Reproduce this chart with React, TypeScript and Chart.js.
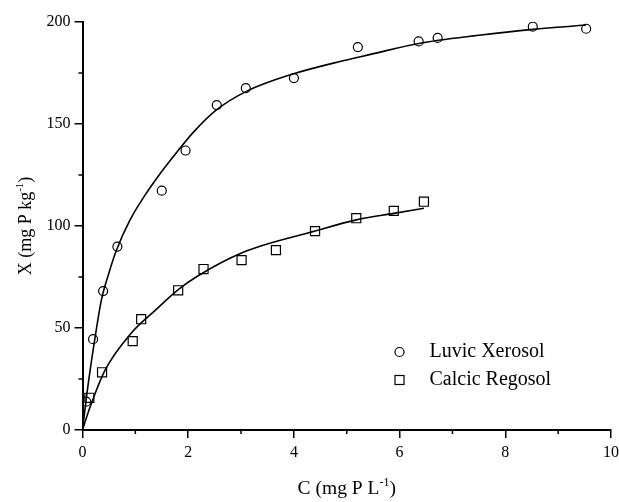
import React, { useEffect, useRef } from 'react';
import { Chart, registerables } from 'chart.js';

Chart.register(...registerables);

// Measured points – Luvic Xerosol (circles)
const luvicC = [0.07, 0.2, 0.39, 0.66, 1.5, 1.95, 2.54, 3.09, 4.0, 5.21, 6.36, 6.72, 8.52, 9.53];
const luvicX = [13.9, 44.5, 68.1, 89.9, 117.3, 137.0, 159.3, 167.6, 172.5, 187.7, 190.5, 192.2, 197.7, 196.7];

// Measured points – Calcic Regosol (squares)
const calcicC = [0.13, 0.37, 0.95, 1.11, 1.81, 2.29, 3.01, 3.66, 4.4, 5.18, 5.89, 6.46];
const calcicX = [15.8, 28.3, 43.6, 54.3, 68.5, 78.9, 83.3, 88.2, 97.5, 103.8, 107.4, 111.9];

// Fitted curves
const luvicFitC = [0, 0.1, 0.23, 0.36, 0.5, 0.64, 0.9, 1.18, 1.45, 1.75, 2.1, 2.54, 3.1, 3.98, 4.93, 5.43, 6.36, 7.5, 8.52, 9.53];
const luvicFitX = [0, 21, 44, 64, 77, 88, 103, 115, 125, 135, 146, 157, 166, 174.5, 181, 184, 189.5, 193.5, 196.4, 198.5];

const calcicFitC = [0, 0.14, 0.42, 0.92, 1.37, 1.8, 2.18, 3.01, 4.4, 5.18, 5.89, 6.46];
const calcicFitX = [0, 11, 29, 47.4, 58.5, 68.6, 75.5, 86.8, 97.5, 103, 106.2, 108.7];

const xTickStep = 2;
const yTickStep = 50;
const xMinor = [1, 3, 5, 7, 9];
const yMinor = [25, 75, 125, 175];

const legendLabels = ['Luvic Xerosol', 'Calcic Regosol'];

const FONT = "'Liberation Serif', 'Times New Roman', serif";

export default function App() {
  const ref = useRef<HTMLCanvasElement>(null);

  useEffect(() => {
    if (!ref.current) return;
    const toXY = (xs: number[], ys: number[]) => xs.map((x, i) => ({ x, y: ys[i] }));

    const decor = {
      id: 'decor',
      afterDraw(chart: any) {
        const ctx = chart.ctx as CanvasRenderingContext2D;
        const { left, right, top, bottom } = chart.chartArea;
        const xs = chart.scales.x;
        const ys = chart.scales.y;
        ctx.save();
        // minor ticks
        ctx.strokeStyle = '#000';
        ctx.lineWidth = 1.5;
        ctx.beginPath();
        xMinor.forEach((v) => {
          const p = xs.getPixelForValue(v);
          ctx.moveTo(p, bottom);
          ctx.lineTo(p, bottom + 4);
        });
        yMinor.forEach((v) => {
          const p = ys.getPixelForValue(v);
          ctx.moveTo(left, p);
          ctx.lineTo(left - 4, p);
        });
        ctx.stroke();

        ctx.fillStyle = '#000';
        const measure = (parts: [string, boolean][], size: number) => {
          let w = 0;
          parts.forEach(([t, sup]) => {
            ctx.font = `${sup ? Math.round(size * 0.6) : size}px ${FONT}`;
            w += ctx.measureText(t).width;
          });
          return w;
        };
        const renderSup = (parts: [string, boolean][], size: number, x0: number, y0: number) => {
          let x = x0;
          parts.forEach(([t, sup]) => {
            ctx.font = `${sup ? Math.round(size * 0.6) : size}px ${FONT}`;
            ctx.fillText(t, x, sup ? y0 - size * 0.42 : y0);
            x += ctx.measureText(t).width;
          });
        };
        ctx.textBaseline = 'alphabetic';
        ctx.textAlign = 'left';
        const xt: [string, boolean][] = [['C (mg P L', false], ['-1', true], [')', false]];
        const xSize = 19.5;
        const xw = measure(xt, xSize);
        renderSup(xt, xSize, (left + right) / 2 - xw / 2, 494);

        const yt: [string, boolean][] = [['X (mg P kg', false], ['-1', true], [')', false]];
        const ySize = 18;
        const yw = measure(yt, ySize);
        ctx.save();
        ctx.translate(31, (top + bottom) / 2);
        ctx.rotate(-Math.PI / 2);
        renderSup(yt, ySize, -yw / 2, 0);
        ctx.restore();

        // legend
        const lx = left + 317;
        const ly = top + 330;
        ctx.lineWidth = 1.2;
        ctx.beginPath();
        ctx.arc(lx, ly, 4.5, 0, Math.PI * 2);
        ctx.stroke();
        ctx.strokeRect(lx - 4.5, ly + 28 - 4.5, 9, 9);
        ctx.font = `20px ${FONT}`;
        ctx.textBaseline = 'middle';
        ctx.fillText(legendLabels[0], lx + 30, ly);
        ctx.fillText(legendLabels[1], lx + 30, ly + 28);
        ctx.restore();
      },
    };

    const tickFont = { family: FONT, size: 16 };

    const chart = new Chart(ref.current, {
      type: 'scatter',
      data: {
        datasets: [
          {
            label: 'Luvic fit',
            data: toXY(luvicFitC, luvicFitX),
            showLine: true,
            borderColor: '#000',
            borderWidth: 1.6,
            pointRadius: 0,
            cubicInterpolationMode: 'monotone',
            fill: false,
          } as any,
          {
            label: 'Calcic fit',
            data: toXY(calcicFitC, calcicFitX),
            showLine: true,
            borderColor: '#000',
            borderWidth: 1.6,
            pointRadius: 0,
            cubicInterpolationMode: 'monotone',
            fill: false,
          } as any,
          {
            label: legendLabels[0],
            data: toXY(luvicC, luvicX),
            pointStyle: 'circle',
            pointRadius: 4.5,
            pointBorderWidth: 1.2,
            pointBorderColor: '#000',
            pointBackgroundColor: 'rgba(255,255,255,0)',
            showLine: false,
          } as any,
          {
            label: legendLabels[1],
            data: toXY(calcicC, calcicX),
            pointStyle: 'rect',
            pointRadius: 6.4,
            pointBorderWidth: 1.2,
            pointBorderColor: '#000',
            pointBackgroundColor: 'rgba(255,255,255,0)',
            showLine: false,
          } as any,
        ],
      },
      options: {
        responsive: false,
        animation: false,
        devicePixelRatio: 1,
        layout: { padding: { top: 22, right: 8, left: 0, bottom: 0 } },
        plugins: { legend: { display: false }, tooltip: { enabled: false } },
        scales: {
          x: {
            type: 'linear',
            min: 0,
            max: 10,
            ticks: { stepSize: xTickStep, font: tickFont, color: '#000', padding: 5, maxRotation: 0 },
            grid: { drawOnChartArea: false, drawTicks: true, tickLength: 8, color: '#000', lineWidth: 1.5 },
            border: { display: true, color: '#000', width: 2 },
            afterFit: (s: any) => {
              s.height = 72;
              s.paddingLeft = 0;
              s.paddingRight = 0;
            },
          },
          y: {
            type: 'linear',
            min: 0,
            max: 200,
            ticks: { stepSize: yTickStep, font: tickFont, color: '#000', padding: 4 },
            grid: { drawOnChartArea: false, drawTicks: true, tickLength: 8, color: '#000', lineWidth: 1.5 },
            border: { display: true, color: '#000', width: 2 },
            afterFit: (s: any) => {
              s.width = 82.5;
              s.paddingTop = 0;
              s.paddingBottom = 0;
            },
          },
        },
      } as any,
      plugins: [decor],
    });
    return () => chart.destroy();
  }, []);

  return (
    <div style={{ position: 'fixed', left: 0, top: 0, width: 619, height: 502, background: '#fff' }}>
      <canvas ref={ref} width={619} height={502} style={{ display: 'block' }} />
    </div>
  );
}
